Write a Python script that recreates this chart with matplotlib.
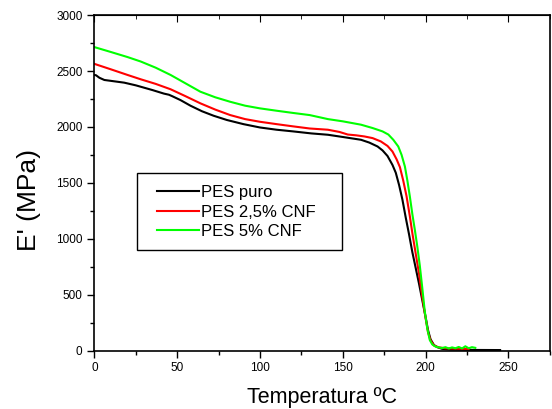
import numpy as np
import matplotlib
matplotlib.use("Agg")
import matplotlib.pyplot as plt
from matplotlib.ticker import MultipleLocator
from matplotlib.patches import Rectangle

plt.rcParams["font.family"] = ["Liberation Sans", "DejaVu Sans"]

# PES puro
t_puro = [0, 1, 3, 6, 12, 18, 25, 35, 42, 45, 47, 52, 58, 65, 72, 80, 90, 100, 110,
          120, 131, 141, 150, 161, 166, 171, 174, 177, 180, 182, 184, 186, 188, 190,
          192, 194, 196, 198, 200, 201.5, 203, 205, 207, 210, 215, 230, 245]
e_puro = [2465, 2462, 2440, 2420, 2408, 2396, 2372, 2330, 2298, 2288, 2275, 2240, 2190,
          2140, 2100, 2062, 2025, 1995, 1975, 1960, 1942, 1930, 1910, 1885, 1860, 1825,
          1790, 1740, 1660, 1590, 1480, 1350, 1190, 1040, 880, 740, 600, 450, 300, 180,
          100, 50, 30, 15, 8, 5, 4]

# PES 2,5% CNF
t_25 = [0, 10, 20, 28, 37, 46, 55, 64, 73, 82, 91, 100, 110, 120, 130, 141, 148, 153,
        158, 163, 168, 173, 177, 180, 182.5, 184.5, 186.5, 188.5, 190.5, 192, 194, 196,
        198, 200, 201.5, 203, 205, 208, 212, 220, 226]
e_25 = [2564, 2515, 2465, 2426, 2385, 2337, 2275, 2211, 2155, 2106, 2070, 2046, 2025,
        2005, 1986, 1975, 1955, 1932, 1925, 1915, 1900, 1870, 1830, 1780, 1710, 1640,
        1520, 1380, 1200, 1050, 870, 690, 480, 290, 160, 90, 45, 28, 20, 16, 14]

# PES 5% CNF
t_5 = [0, 10, 20, 28, 37, 46, 55, 64, 73, 82, 91, 100, 110, 120, 130, 141, 150, 161,
       168, 174, 177.5, 180.5, 183.5, 185.5, 187.5, 189, 190.5, 192, 193.5, 195, 196.5,
       198, 199.5, 201, 202.5, 204, 206, 208, 210, 212, 214, 216, 218, 220, 222, 224,
       226, 228, 230]
e_5 = [2714, 2670, 2625, 2585, 2530, 2465, 2390, 2315, 2265, 2225, 2190, 2166, 2145,
       2125, 2106, 2070, 2050, 2020, 1990, 1960, 1932, 1885, 1825, 1750, 1646, 1520,
       1377, 1220, 1080, 930, 760, 560, 350, 200, 95, 55, 35, 28, 22, 30, 18, 28, 20,
       32, 18, 38, 20, 30, 24]

fig = plt.figure(figsize=(5.52, 4.09), dpi=100)
ax = fig.add_axes([0.171, 0.143, 0.825, 0.820])

ax.plot(t_puro, e_puro, color="black", lw=1.5, label="PES puro")
ax.plot(t_25, e_25, color="#ff0000", lw=1.5, label="PES 2,5% CNF")
ax.plot(t_5, e_5, color="#00ff00", lw=1.5, label="PES 5% CNF")

ax.set_xlim(0, 275)
ax.set_ylim(0, 3000)
ax.xaxis.set_major_locator(MultipleLocator(50))
ax.xaxis.set_minor_locator(MultipleLocator(25))
ax.yaxis.set_major_locator(MultipleLocator(500))
ax.yaxis.set_minor_locator(MultipleLocator(250))
ax.tick_params(which="both", direction="out", labelsize=8.5, width=1)
ax.tick_params(which="major", length=5)
ax.tick_params(which="minor", length=3)
for s in ax.spines.values():
    s.set_linewidth(1.2)

sec_x = ax.secondary_xaxis("top")
sec_x.xaxis.set_major_locator(MultipleLocator(50))
sec_x.xaxis.set_minor_locator(MultipleLocator(25))
sec_x.tick_params(which="both", direction="in", labeltop=False)
sec_x.tick_params(which="major", length=5)
sec_x.tick_params(which="minor", length=3)

ax.set_xlabel("Temperatura ºC", fontsize=15.5, labelpad=9)
ax.set_ylabel("E' (MPa)", fontsize=19)
ax.yaxis.set_label_coords(-0.118, 0.448)

# legend: plain box drawn by hand, entries placed inside it
W, H = 552, 409
fig.patches.append(Rectangle((137 / W, 1 - 250 / H), 205 / W, 77 / H,
                             transform=fig.transFigure, fill=False,
                             edgecolor="black", lw=1.0))
ax.legend(loc="upper left", bbox_to_anchor=(157 / W, 1 - 185 / H),
          bbox_transform=fig.transFigure, fontsize=12, frameon=False,
          handlelength=2.5, handletextpad=0.15, labelspacing=0.28,
          borderpad=0, borderaxespad=0)

fig.savefig("out.png", dpi=100)
